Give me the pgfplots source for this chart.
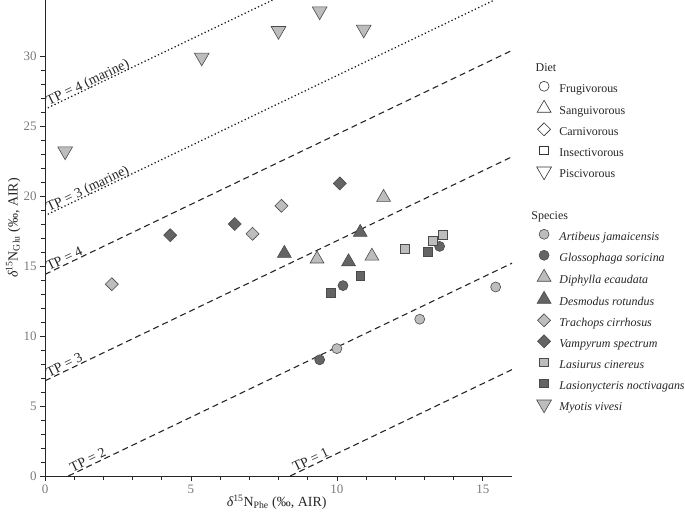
\documentclass[border=0pt]{standalone}
\usepackage{fontspec}
\setmainfont{Liberation Serif}
\usepackage{pgfplots}
\pgfplotsset{compat=1.18}
\definecolor{lf}{HTML}{BDBDBD}
\definecolor{df}{HTML}{646464}
\definecolor{ed}{HTML}{4A4A4A}
\definecolor{tk}{HTML}{7A7A7A}
\tikzset{tpl/.style={sloped, anchor=base west, inner sep=0pt, yshift=1.5bp, font=\fontsize{14}{16}\selectfont, text=black!85}}
\pgfplotsset{
  lm/.style={only marks, line width=0.6bp,
    legend image code/.code={\draw[mark repeat=2,mark phase=2,##1] plot coordinates {(0bp,3.5bp) (9bp,3.5bp) (18bp,3.5bp)};}},
  hdr/.style={legend image code/.code={}},
  mcirc/.style={lm, mark=*, mark size=5bp},
  mtri/.style={lm, mark=triangle*, mark size=8bp},
  mdia/.style={lm, mark=square*, mark size=4.6bp, every mark/.append style={rotate=45}},
  msq/.style={lm, mark=square*, mark size=4.4bp},
  mdown/.style={lm, mark=triangle*, mark size=8.5bp, every mark/.append style={rotate=180}},
  light/.style={every mark/.append style={fill=lf, draw=ed}},
  dark/.style={every mark/.append style={fill=df, draw=ed}},
  open/.style={every mark/.append style={fill=white, draw=black!80}},
  tpd/.style={draw=black!85, line width=1.1bp, dash pattern=on 6bp off 4bp, forget plot},
  tpm/.style={draw=black!90, line width=1.7bp, dash pattern=on 0.1bp off 3.6bp, line cap=round, forget plot},
}
\begin{document}
\begin{tikzpicture}
\useasboundingbox (-45bp,-37bp) rectangle (640bp,476bp);
\begin{axis}[
  at={(0,0)}, anchor=south west,
  scale only axis, width=467bp, height=476bp,
  xmin=0, xmax=16, ymin=0, ymax=34,
  axis lines=left,
  axis line style={-, draw=black!85, line width=1bp},
  xtick={0,5,10,15}, ytick={0,5,10,15,20,25,30},
  minor x tick num=4, minor y tick num=4,
  tick align=outside,
  major tick length=5bp, minor tick length=4bp,
  tick style={draw=black!85, line width=0.7bp},
  every tick label/.append style={font=\fontsize{13}{15}\selectfont, text=tk},
  /pgf/number format/assume math mode=true,
  xlabel={{\itshape δ}\textsuperscript{15}N\textsubscript{Phe} (‰, AIR)},
  ylabel={{\itshape δ}\textsuperscript{15}N\textsubscript{Glu} (‰, AIR)},
  xlabel style={at={(axis description cs:0.496,-0.055)}, anchor=center, font=\fontsize{14}{16}\selectfont, text=black!85},
  ylabel style={at={(axis description cs:-0.068,0.521)}, anchor=center, font=\fontsize{14}{16}\selectfont, text=black!85},
  legend cell align=left,
  legend style={at={(axis description cs:1.049,0.878)}, anchor=north west, draw=none, fill=none, inner sep=0pt,
    font=\fontsize{12}{14}\selectfont, row sep=0pt, column sep=8bp,
    nodes={inner sep=0pt, text height=13bp, text depth=8bp, text=black!85}},
]
% reference lines
\addplot[tpd] coordinates {(8.4,0) (16,7.6)} node[tpl, pos=0.024] {TP = 1};
\addplot[tpd] coordinates {(0.8,0) (16,15.2)} node[tpl, pos=0.01] {TP = 2};
\addplot[tpd] coordinates {(0,6.8) (16,22.8)} node[tpl, pos=0.009] {TP = 3};
\addplot[tpd] coordinates {(0,14.4) (16,30.4)} node[tpl, pos=0.009] {TP = 4};
\addplot[tpm] coordinates {(0,18.6) (15.4,34)} node[tpl, pos=0.009] {TP = 3 (marine)};
\addplot[tpm] coordinates {(0,26.2) (7.8,34)} node[tpl, pos=0.018] {TP = 4 (marine)};

% legend: diet
\addlegendimage{hdr}\addlegendentry{\hspace*{-28bp}Diet}
\addlegendimage{mcirc, open}\addlegendentry{Frugivorous}
\addlegendimage{mtri, open}\addlegendentry{Sanguivorous}
\addlegendimage{mdia, open}\addlegendentry{Carnivorous}
\addlegendimage{msq, open}\addlegendentry{Insectivorous}
\addlegendimage{mdown, open}\addlegendentry{Piscivorous}
\addlegendimage{hdr}\addlegendentry{}
\addlegendimage{hdr}\addlegendentry{\hspace*{-28bp}Species}

% species
\addplot[mcirc, light] coordinates {(10.0,9.1) (12.84,11.2) (15.44,13.5)};
\addlegendentry{\textit{Artibeus jamaicensis}}
\addplot[mcirc, dark] coordinates {(9.41,8.3) (10.21,13.6) (13.52,16.4)};
\addlegendentry{\textit{Glossophaga soricina}}
\addplot[mtri, light] coordinates {(11.6,19.9) (9.32,15.5) (11.2,15.7)};
\addlegendentry{\textit{Diphylla ecaudata}}
\addplot[mtri, dark] coordinates {(10.8,17.4) (8.2,15.9) (10.4,15.3)};
\addlegendentry{\textit{Desmodus rotundus}}
\addplot[mdia, light] coordinates {(2.29,13.7) (7.11,17.3) (8.1,19.3)};
\addlegendentry{\textit{Trachops cirrhosus}}
\addplot[mdia, dark] coordinates {(4.29,17.2) (6.5,18.0) (10.1,20.9)};
\addlegendentry{\textit{Vampyrum spectrum}}
\addplot[msq, light] coordinates {(12.32,16.2) (13.3,16.8) (13.62,17.2)};
\addlegendentry{\textit{Lasiurus cinereus}}
\addplot[msq, dark] coordinates {(9.8,13.1) (10.8,14.3) (13.12,16.0)};
\addlegendentry{\textit{Lasionycteris noctivagans}}
\addplot[mdown, light] coordinates {(0.69,23.2) (5.37,29.9) (8.0,31.8) (9.41,33.2) (10.92,31.9)};
\addlegendentry{\textit{Myotis vivesi}}
\end{axis}
\end{tikzpicture}
\end{document}
